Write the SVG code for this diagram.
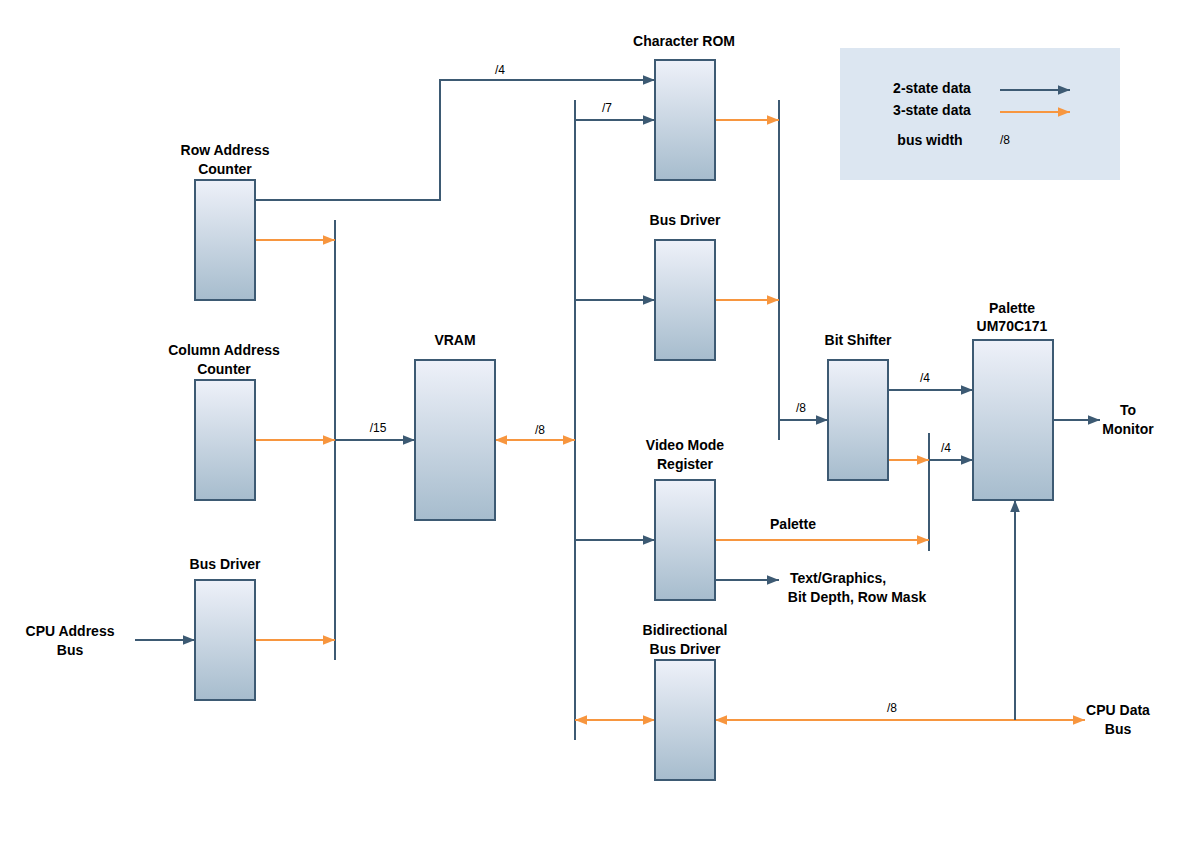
<svg xmlns="http://www.w3.org/2000/svg" width="1189" height="841" viewBox="0 0 1189 841">
<defs>
<linearGradient id="g" x1="0" y1="0" x2="0" y2="1"><stop offset="0" stop-color="#eef1f9"/><stop offset="1" stop-color="#a6bccd"/></linearGradient>
<marker id="ab" viewBox="0 0 10 10" refX="10" refY="5" markerWidth="6" markerHeight="6" orient="auto-start-reverse"><path d="M0,1 L10,5 L0,9 z" fill="#3d5a73"/></marker>
<marker id="ao" viewBox="0 0 10 10" refX="10" refY="5" markerWidth="6" markerHeight="6" orient="auto-start-reverse"><path d="M0,1 L10,5 L0,9 z" fill="#f7963f"/></marker>
</defs>
<style>
.box{fill:url(#g);stroke:#3d5a73;stroke-width:2}
.b{fill:none;stroke:#3d5a73;stroke-width:2}
.o{fill:none;stroke:#f7963f;stroke-width:2}
.ba{marker-end:url(#ab)}
.oa{marker-end:url(#ao)}
text{font-family:"Liberation Sans",Arial,sans-serif;fill:#000}
.l{font-size:14px;font-weight:bold;text-anchor:middle}
.s{font-size:12px;text-anchor:middle}
</style>
<rect x="840" y="48" width="280" height="132" fill="#dce6f1"/>
<text class="l" x="932" y="93">2-state data</text>
<text class="l" x="932" y="115">3-state data</text>
<text class="l" x="930" y="145">bus width</text>
<text class="s" x="1005" y="144">/8</text>
<g id="connectors">
<path class="b ba" d="M1000,90 H1070"/>
<path class="o oa" d="M1000,112 H1070"/>
<path class="b" d="M335,220 V660 M575,100 V740 M779,100 V440 M929,433 V551"/>
<path class="b ba" d="M255,200 H440 V80 H655"/>
<path class="o oa" d="M255,240 H335"/>
<path class="o oa" d="M255,440 H335"/>
<path class="o oa" d="M255,640 H335"/>
<path class="b ba" d="M135,640 H195"/>
<path class="b ba" d="M335,440 H415"/>
<path class="o oa" d="M495,440 H575" marker-start="url(#ao)"/>
<path class="b ba" d="M575,120 H655"/>
<path class="b ba" d="M575,300 H655"/>
<path class="b ba" d="M575,540 H655"/>
<path class="o oa" d="M575,720 H655" marker-start="url(#ao)"/>
<path class="o oa" d="M715,120 H779"/>
<path class="o oa" d="M715,300 H779"/>
<path class="b ba" d="M779,420 H828"/>
<path class="b ba" d="M888,390 H973"/>
<path class="o oa" d="M888,460 H929"/>
<path class="b ba" d="M929,460 H973"/>
<path class="o oa" d="M715,540 H929"/>
<path class="b ba" d="M715,580 H779"/>
<path class="o oa" d="M715,720 H1085" marker-start="url(#ao)"/>
<path class="b ba" d="M1015,720 V500"/>
<path class="b ba" d="M1053,420 H1100"/>
<text class="s" x="500" y="74">/4</text>
<text class="s" x="607" y="112">/7</text>
<text class="s" x="378" y="432">/15</text>
<text class="s" x="540" y="434">/8</text>
<text class="s" x="801" y="412">/8</text>
<text class="s" x="925" y="382">/4</text>
<text class="s" x="946" y="452">/4</text>
<text class="s" x="892" y="712">/8</text>
<text class="l" x="793" y="529">Palette</text>
<text class="l" x="790" y="583" text-anchor="start" style="text-anchor:start">Text/Graphics,</text>
<text class="l" x="857" y="602">Bit Depth, Row Mask</text>
<text class="l" x="1128" y="415">To</text>
<text class="l" x="1128" y="434">Monitor</text>
<text class="l" x="70" y="636">CPU Address</text>
<text class="l" x="70" y="655">Bus</text>
<text class="l" x="1118" y="715">CPU Data</text>
<text class="l" x="1118" y="734">Bus</text>
</g>
<g id="charrom"><rect class="box" x="655" y="60" width="60" height="120"/><text class="l" x="684" y="46">Character ROM</text></g>
<g id="busdriver1"><rect class="box" x="655" y="240" width="60" height="120"/><text class="l" x="685" y="225">Bus Driver</text></g>
<g id="videomode"><rect class="box" x="655" y="480" width="60" height="120"/><text class="l" x="685" y="450">Video Mode</text><text class="l" x="685" y="469">Register</text></g>
<g id="bidir"><rect class="box" x="655" y="660" width="60" height="120"/><text class="l" x="685" y="635">Bidirectional</text><text class="l" x="685" y="654">Bus Driver</text></g>
<g id="rowaddr"><rect class="box" x="195" y="180" width="60" height="120"/><text class="l" x="225" y="155">Row Address</text><text class="l" x="225" y="174">Counter</text></g>
<g id="coladdr"><rect class="box" x="195" y="380" width="60" height="120"/><text class="l" x="224" y="355">Column Address</text><text class="l" x="224" y="374">Counter</text></g>
<g id="busdriver2"><rect class="box" x="195" y="580" width="60" height="120"/><text class="l" x="225" y="569">Bus Driver</text></g>
<g id="vram"><rect class="box" x="415" y="360" width="80" height="160"/><text class="l" x="455" y="345">VRAM</text></g>
<g id="bitshifter"><rect class="box" x="828" y="360" width="60" height="120"/><text class="l" x="858" y="345">Bit Shifter</text></g>
<g id="palette"><rect class="box" x="973" y="340" width="80" height="160"/><text class="l" x="1012" y="313">Palette</text><text class="l" x="1012" y="331">UM70C171</text></g>
</svg>
